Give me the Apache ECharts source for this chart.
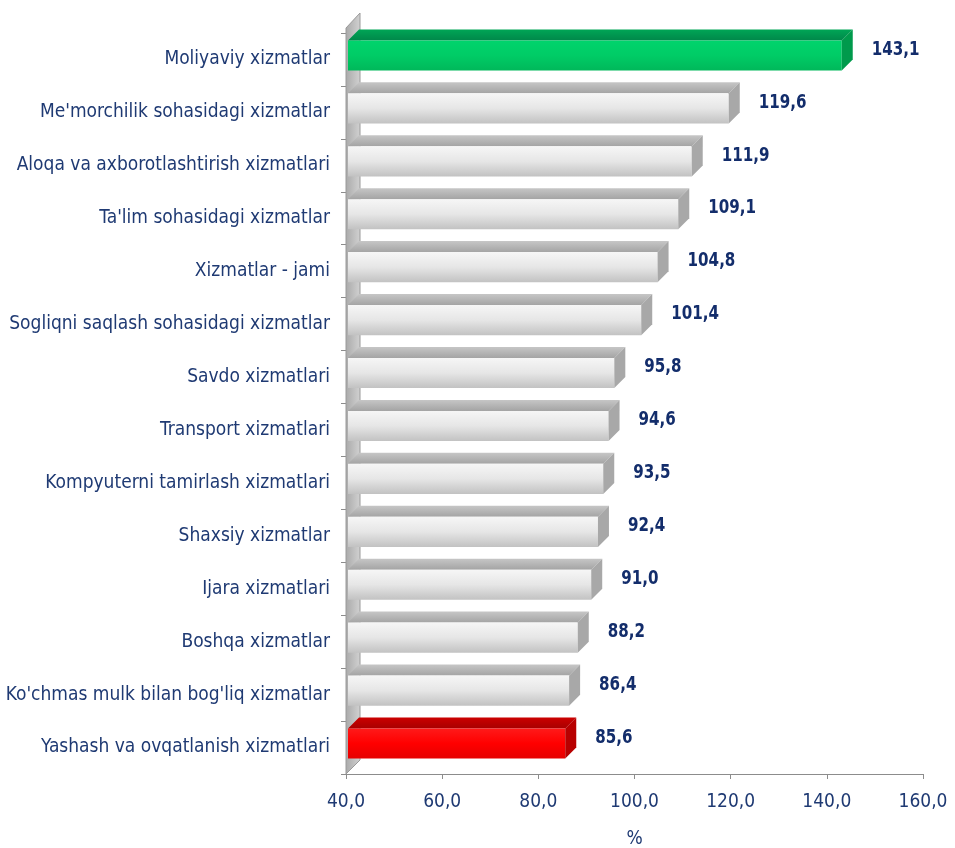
<!DOCTYPE html>
<html>
<head>
<meta charset="utf-8">
<script src="https://cdn.jsdelivr.net/npm/echarts@6/dist/echarts.min.js"></script>
<style>
html,body{margin:0;padding:0;background:#fff;}
#chart{width:955px;height:848px;}
</style>
</head>
<body>
<div id="chart"></div>
<script>
const categories = [
  "Moliyaviy xizmatlar",
  "Me'morchilik sohasidagi xizmatlar",
  "Aloqa va axborotlashtirish xizmatlari",
  "Ta'lim sohasidagi xizmatlar",
  "Xizmatlar - jami",
  "Sogliqni saqlash sohasidagi xizmatlar",
  "Savdo xizmatlari",
  "Transport xizmatlari",
  "Kompyuterni tamirlash xizmatlari",
  "Shaxsiy xizmatlar",
  "Ijara xizmatlari",
  "Boshqa xizmatlar",
  "Ko'chmas mulk bilan bog'liq xizmatlar",
  "Yashash va ovqatlanish xizmatlari"
];
const values = [143.1, 119.6, 111.9, 109.1, 104.8, 101.4, 95.8, 94.6, 93.5, 92.4, 91.0, 88.2, 86.4, 85.6];
const axisMin = 40, axisMax = 160, axisStep = 20;

const FONT = "'Liberation Sans Narrow','Arial Narrow','DejaVu Sans Condensed',sans-serif";
const NAVY = '#1f3a73';
const LABEL_NAVY = '#132d6b';

const palettes = {
  grey:  {front: ['#f6f6f6', '#e6e6e6', '#c2c2c2'], top: ['#a4a4a4', '#c6c6c6'], side: '#a8a8a8'},
  green: {front: ['#00d46c', '#00cc66', '#00b85a'], top: ['#00884a', '#00a656'], side: '#009a4c'},
  red:   {front: ['#ff1a1a', '#ff0000', '#e60000'], top: ['#a80000', '#cc0000'], side: '#b80000'}
};
function paletteFor(i) {
  if (i === 0) return palettes.green;
  if (i === values.length - 1) return palettes.red;
  return palettes.grey;
}
function vgrad(stops) {
  return new echarts.graphic.LinearGradient(0, 0, 0, 1,
    stops.map((c, k) => ({offset: k / (stops.length - 1), color: c})));
}
function fmt(v) { return v.toFixed(1).replace('.', ','); }

const DX = 11, DY = 11;

function renderBar(params, api) {
  const idx = api.value(1);
  const v = api.value(0);
  const p0 = api.coord([axisMin, idx]);
  const p1 = api.coord([v, idx]);
  const band = api.size([0, 1])[1];
  const h = band * 0.57;
  const cy = p0[1] - 4;
  const yt = cy - h / 2, yb = cy + h / 2;
  const x0 = p0[0] + 2, x1 = p1[0];
  const pal = paletteFor(params.dataIndex);
  return {
    type: 'group',
    children: [
      {type: 'polygon', shape: {points: [[x0, yt], [x1, yt], [x1 + DX, yt - DY], [x0 + DX, yt - DY]]},
       style: {fill: vgrad(pal.top.slice().reverse())}},
      {type: 'rect', shape: {x: x0, y: yt, width: x1 - x0, height: h},
       style: {fill: vgrad(pal.front)}},
      {type: 'polygon', shape: {points: [[x1, yt], [x1 + DX, yt - DY], [x1 + DX, yb - DY], [x1, yb]]},
       style: {fill: pal.side}},
      {type: 'text', x: x1 + 30, y: cy - 6, scaleX: 0.84,
       style: {text: fmt(v), fill: LABEL_NAVY, font: 'bold 20px ' + FONT, verticalAlign: 'middle', align: 'left'}}
    ]
  };
}

function renderWall(params, api) {
  const n = categories.length;
  const band = api.size([0, 1])[1];
  const top = api.coord([axisMin, 0])[1] - band / 2;
  const bottom = api.coord([axisMin, n - 1])[1] + band / 2;
  const x = api.coord([axisMin, 0])[0];
  const W = 14;
  return {
    type: 'polygon',
    shape: {points: [[x, top - 5], [x + W, top - 20], [x + W, bottom - 14], [x, bottom]]},
    style: {
      fill: new echarts.graphic.LinearGradient(0, 0, 1, 0, [
        {offset: 0, color: '#a9a9a9'}, {offset: 1, color: '#d2d2d2'}]),
      stroke: '#9a9a9a', lineWidth: 1
    },
    z2: 0
  };
}

const chart = echarts.init(document.getElementById('chart'), null, {renderer: 'canvas'});
chart.setOption({
  backgroundColor: '#ffffff',
  animation: false,
  grid: {left: 346, right: 32, top: 33, bottom: 74, containLabel: false, outerBoundsMode: 'none'},
  xAxis: {
    type: 'value', min: axisMin, max: axisMax, interval: axisStep,
    name: '%', nameLocation: 'middle', nameGap: 56,
    nameTextStyle: {color: NAVY, fontFamily: FONT, fontSize: 19},
    axisLine: {show: true, lineStyle: {color: '#8c8c8c', width: 1}},
    axisTick: {show: true, length: 5, lineStyle: {color: '#8c8c8c'}},
    axisLabel: {color: NAVY, fontFamily: FONT, fontSize: 19, margin: 19, formatter: v => fmt(v)},
    splitLine: {show: false}
  },
  yAxis: {
    type: 'category', data: categories, inverse: true,
    axisLine: {show: true, lineStyle: {color: '#8c8c8c', width: 1}},
    axisTick: {show: true, length: 5, lineStyle: {color: '#8c8c8c'}},
    axisLabel: {color: NAVY, fontFamily: FONT, fontSize: 19, margin: 16}
  },
  series: [
    {type: 'custom', renderItem: renderWall, data: [[axisMin, 0]], encode: {x: 0, y: 1}, z: 1, silent: true, clip: false},
    {type: 'custom', renderItem: renderBar, data: values.map((v, i) => [v, i]), encode: {x: 0, y: 1}, z: 2, clip: false}
  ]
});
</script>
</body>
</html>
